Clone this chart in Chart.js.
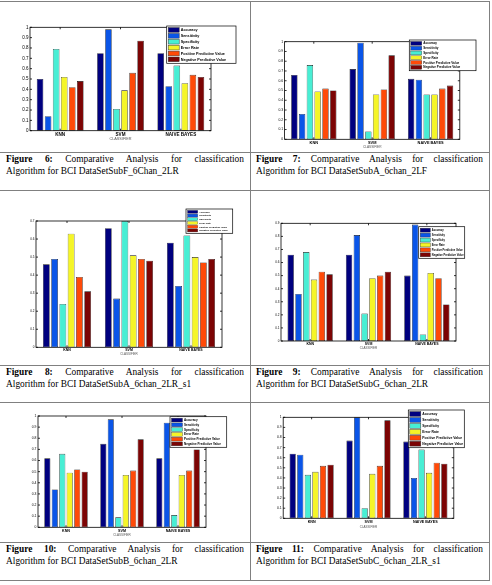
<!DOCTYPE html>
<html><head><meta charset="utf-8">
<script src="https://cdn.jsdelivr.net/npm/chart.js@4.4.1/dist/chart.umd.min.js"></script>
<style>
html,body{margin:0;padding:0;background:#fff;}
body{width:492px;height:585px;position:relative;overflow:hidden;}
.hl{position:absolute;left:0;width:490px;height:1px;background:#808080;}
.vl{position:absolute;top:1px;height:580px;width:1px;background:#808080;}
.cap{position:absolute;font-family:"Liberation Serif","Times New Roman",serif;font-size:9.4px;line-height:12px;color:#000;}
.cap .l1{text-align:justify;text-align-last:justify;}
.cap b{font-weight:bold;}
.cv{position:absolute;}
</style>
</head><body>
<div class="hl" style="top:1px"></div>
<div class="hl" style="top:152px"></div>
<div class="hl" style="top:190px"></div>
<div class="hl" style="top:365px"></div>
<div class="hl" style="top:402px"></div>
<div class="hl" style="top:542px"></div>
<div class="hl" style="top:580px"></div>
<div class="vl" style="left:250px"></div>
<div class="vl" style="left:489px"></div>

<canvas id="c6" class="cv"></canvas>
<canvas id="c7" class="cv"></canvas>
<canvas id="c8" class="cv"></canvas>
<canvas id="c9" class="cv"></canvas>
<canvas id="c10" class="cv"></canvas>
<canvas id="c11" class="cv"></canvas>

<div class="cap" style="left:6px;top:152.5px;width:238px"><div class="l1"><b>Figure 6:</b> Comparative Analysis for classification</div><div>Algorithm for BCI DataSetSubF_6Chan_2LR</div></div>
<div class="cap" style="left:256px;top:152.5px;width:227px"><div class="l1"><b>Figure 7:</b> Comparative Analysis for classification</div><div>Algorithm for BCI DataSetSubA_6chan_2LF</div></div>
<div class="cap" style="left:6px;top:366px;width:238px"><div class="l1"><b>Figure 8:</b> Comparative Analysis for classification</div><div>Algorithm for BCI DataSetSubA_6chan_2LR_s1</div></div>
<div class="cap" style="left:256px;top:366px;width:227px"><div class="l1"><b>Figure 9:</b> Comparative Analysis for classification</div><div>Algorithm for BCI DataSetSubG_6chan_2LR</div></div>
<div class="cap" style="left:6px;top:543.3px;width:238px"><div class="l1"><b>Figure 10:</b> Comparative Analysis for classification</div><div>Algorithm for BCI DataSetSubB_6chan_2LR</div></div>
<div class="cap" style="left:256px;top:543.3px;width:227px"><div class="l1"><b>Figure 11:</b> Comparative Analysis for classification</div><div>Algorithm for BCI DataSetSubC_6chan_2LR_s1</div></div>

<script>
// ---- data ----
const categories = ['KNN', 'SVM', 'NAIVE BAYES'];
const metrics = ['Accuracy', 'Sensitivity', 'Specificity', 'Error Rate', 'Positive Predictive Value', 'Negative Predictive Value'];
const axisTitle = 'CLASSIFIER';

const ticksTo1  = [0, 0.1, 0.2, 0.3, 0.4, 0.5, 0.6, 0.7, 0.8, 0.9, 1];
const ticksTo07 = [0, 0.1, 0.2, 0.3, 0.4, 0.5, 0.6, 0.7];
const ticksTo09 = [0, 0.1, 0.2, 0.3, 0.4, 0.5, 0.6, 0.7, 0.8, 0.9];

// rows = metrics, columns = KNN, SVM, NAIVE BAYES
const fig6Values = [
  [0.50, 0.75, 0.75],
  [0.14, 0.98, 0.43],
  [0.79, 0.21, 0.63],
  [0.52, 0.39, 0.46],
  [0.42, 0.56, 0.54],
  [0.48, 0.87, 0.52]
];
const fig7Values = [
  [0.66, 0.72, 0.62],
  [0.26, 0.99, 0.61],
  [0.76, 0.08, 0.46],
  [0.49, 0.46, 0.46],
  [0.52, 0.51, 0.52],
  [0.50, 0.86, 0.55]
];
const fig8Values = [
  [0.46, 0.66, 0.58],
  [0.49, 0.27, 0.34],
  [0.24, 0.70, 0.62],
  [0.63, 0.51, 0.50],
  [0.39, 0.49, 0.47],
  [0.31, 0.48, 0.49]
];
const fig9Values = [
  [0.66, 0.66, 0.50],
  [0.36, 0.81, 0.89],
  [0.68, 0.21, 0.05],
  [0.47, 0.48, 0.52],
  [0.53, 0.50, 0.48],
  [0.51, 0.53, 0.28]
];
const fig10Values = [
  [0.62, 0.75, 0.62],
  [0.34, 0.97, 0.94],
  [0.66, 0.09, 0.11],
  [0.49, 0.47, 0.47],
  [0.52, 0.51, 0.51],
  [0.50, 0.79, 0.70]
];
const fig11Values = [
  [0.64, 0.77, 0.76],
  [0.63, 1.00, 0.40],
  [0.43, 0.10, 0.68],
  [0.46, 0.44, 0.45],
  [0.52, 0.52, 0.55],
  [0.53, 0.97, 0.54]
];

// ---- styling / layout ----
const metricColors = ['#00007f', '#0a55e8', '#48eed4', '#f5f528', '#ff4a08', '#7c0404'];
const FONT = '"Liberation Sans", Arial, sans-serif';
const Y_W = 14;

// box: canvas rect in page coords; plot: [l,t,r,b]; legend: [x,y,w,h]
const specs = [
  {id:'c6',  values:fig6Values,  ticks:ticksTo1,  box:[0,2,250,150],   plot:[30,27.3,211,130.7],    legend:[166.7,26,69.3,37.3],  fs:4.5, xfs:4.6, tfs:3.8, tOff:8.6},
  {id:'c7',  values:fig7Values,  ticks:ticksTo1,  box:[251,2,238,150], plot:[284.6,41.7,459.8,139.3], legend:[409.3,40,66.7,30.7], fs:3.4, xfs:3.9, tfs:3.2, tOff:7.4},
  {id:'c8',  values:fig8Values,  ticks:ticksTo07, box:[0,191,250,174], plot:[36,221,222,347.3],     legend:[186,209,46.7,24.3],   fs:3.0, xfs:3.5, tfs:3.0, tOff:6.7},
  {id:'c9',  values:fig9Values,  ticks:ticksTo09, box:[251,191,238,174], plot:[281,223.3,456,341],  legend:[418.7,226.7,46,31.6], fs:3.0, xfs:3.5, tfs:3.0, tOff:7.3},
  {id:'c10', values:fig10Values, ticks:ticksTo1,  box:[0,403,250,139], plot:[38,416,206,527.3],     legend:[170,416.7,56.7,30.6], fs:3.4, xfs:3.7, tfs:3.0, tOff:7.4},
  {id:'c11', values:fig11Values, ticks:ticksTo1,  box:[251,403,238,139], plot:[283.2,417.3,453.8,518.3], legend:[408.3,410,56,37.7], fs:3.4, xfs:3.7, tfs:3.0, tOff:8.4}
];

const matlabPlugin = {
  id: 'matlab',
  afterDraw(chart, args, opts) {
    const ctx = chart.ctx, a = chart.chartArea;
    ctx.save();
    ctx.strokeStyle = '#000';
    ctx.lineWidth = 0.8;
    ctx.strokeRect(a.left, a.top, a.right - a.left, a.bottom - a.top);
    const ys = chart.scales.y, xs = chart.scales.x;
    ctx.beginPath();
    ys.ticks.forEach(t => {
      const y = ys.getPixelForValue(t.value);
      ctx.moveTo(a.left, y); ctx.lineTo(a.left + 2, y);
      ctx.moveTo(a.right, y); ctx.lineTo(a.right - 2, y);
    });
    chart.data.labels.forEach((l, i) => {
      const x = xs.getPixelForValue(i);
      ctx.moveTo(x, a.bottom); ctx.lineTo(x, a.bottom - 2);
      ctx.moveTo(x, a.top); ctx.lineTo(x, a.top + 2);
    });
    ctx.stroke();
    // legend (MATLAB style box)
    const [lx, ly, lw, lh] = opts.rect;
    ctx.fillStyle = '#fff';
    ctx.fillRect(lx, ly, lw, lh);
    ctx.lineWidth = 0.7;
    ctx.strokeRect(lx, ly, lw, lh);
    const ds = chart.data.datasets;
    const pitch = (lh - 2) / ds.length;
    const sw = Math.min(11, lw * 0.22);
    let fsz = pitch * 0.64;
    ctx.font = 'bold ' + fsz + 'px ' + FONT;
    const tx = lx + 1.5 + sw + 1.5;
    let maxW = 0;
    ds.forEach(d => { maxW = Math.max(maxW, ctx.measureText(d.label).width); });
    const avail = lx + lw - tx - 1;
    if (maxW > avail) { fsz = fsz * avail / maxW; ctx.font = 'bold ' + fsz + 'px ' + FONT; }
    ctx.textBaseline = 'middle';
    ds.forEach((d, i) => {
      const cy = ly + 1 + pitch * (i + 0.5);
      const sh = pitch * 0.8;
      ctx.fillStyle = d.backgroundColor;
      ctx.fillRect(lx + 1.5, cy - sh / 2, sw, sh);
      ctx.lineWidth = Math.min(0.5, sh * 0.1);
      ctx.strokeStyle = '#333';
      ctx.strokeRect(lx + 1.5, cy - sh / 2, sw, sh);
      ctx.fillStyle = '#000';
      ctx.fillText(d.label, tx, cy + 0.2);
    });
    ctx.restore();
  }
};

specs.forEach(s => {
  const cv = document.getElementById(s.id);
  const [bx, by, bw, bh] = s.box;
  cv.width = bw; cv.height = bh;
  cv.style.left = bx + 'px'; cv.style.top = by + 'px';
  cv.style.width = bw + 'px'; cv.style.height = bh + 'px';
  const [pl, pt, pr, pb] = s.plot;
  const xH = s.tOff + s.tfs * 1.2 / 2;
  const padding = {
    left: pl - bx - Y_W,
    top: pt - by,
    right: bx + bw - pr,
    bottom: by + bh - pb - xH
  };
  const tickArr = s.ticks;
  new Chart(cv, {
    type: 'bar',
    data: {
      labels: categories,
      datasets: metrics.map((m, i) => ({
        label: m,
        data: s.values[i],
        backgroundColor: metricColors[i],
        borderColor: '#111',
        borderWidth: 0.6,
        borderSkipped: false,
        categoryPercentage: 0.8,
        barPercentage: 0.82
      }))
    },
    options: {
      responsive: false,
      animation: false,
      devicePixelRatio: 1,
      events: [],
      layout: { padding },
      plugins: {
        legend: { display: false },
        tooltip: { enabled: false },
        matlab: { rect: [s.legend[0] - bx, s.legend[1] - by, s.legend[2], s.legend[3]] }
      },
      scales: {
        x: {
          grid: { display: false, drawTicks: false },
          border: { display: false },
          ticks: { font: { size: s.xfs, weight: 'bold', family: FONT }, color: '#000', padding: 1, maxRotation: 0, autoSkip: false },
          title: { display: true, text: axisTitle, font: { size: s.tfs, family: FONT }, color: '#555', padding: 0 },
          afterFit(sc) { sc.height = xH; }
        },
        y: {
          min: 0,
          max: tickArr[tickArr.length - 1],
          grid: { display: false, drawTicks: false },
          border: { display: false },
          afterBuildTicks(sc) { sc.ticks = tickArr.map(v => ({ value: v })); },
          ticks: { font: { size: s.fs, family: FONT }, color: '#000', padding: 1.5, autoSkip: false,
                   callback: v => String(v) },
          afterFit(sc) { sc.width = Y_W; }
        }
      }
    },
    plugins: [matlabPlugin]
  });
});
</script>
</body></html>
